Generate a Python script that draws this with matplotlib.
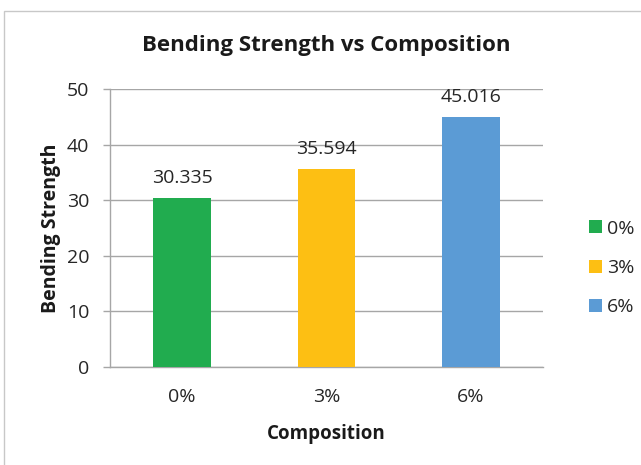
import matplotlib.pyplot as plt
from matplotlib.patches import Rectangle

plt.rcParams['font.family'] = ['Open Sans', 'DejaVu Sans']

# bending strength per composition
compositions = ['0%', '3%', '6%']
strength = [30.335, 35.594, 45.016]
bar_colors = ['#21ac4f', '#fdbf13', '#5b9bd5']
yticks = [0, 10, 20, 30, 40, 50]

W, H = 641, 465
fig = plt.figure(figsize=(W / 100, H / 100), dpi=100)

# outer chart frame (runs off the right and bottom edges)
fig.patches.append(Rectangle((4 / W, -0.1), 1.2, (H - 11) / H + 0.1,
                             transform=fig.transFigure, fill=False,
                             edgecolor='#c8c8c8', lw=1.0))

# plot area in pixels: left 110, right 543, top 89, bottom 367
ax = fig.add_axes([110 / W, (H - 367) / H, 433 / W, 278 / H])

x = list(range(len(compositions)))
bars = ax.bar(x, strength, width=0.4, color=bar_colors, zorder=3)

for xi, v in zip(x, strength):
    ax.annotate('{:.3f}'.format(v), (xi, v), xytext=(0, 8),
                textcoords='offset points', ha='center', va='bottom',
                fontsize=14, color='#262626')

ax.set_xlim(-0.5, 2.5)
ax.set_ylim(0, 50)
ax.set_yticks(yticks)
ax.set_xticks(x)
ax.set_xticklabels(compositions)
ax.yaxis.grid(True, color='#a6a6a6', lw=1.0, zorder=0)

for s in ['top', 'right']:
    ax.spines[s].set_visible(False)
for s in ['left', 'bottom']:
    ax.spines[s].set_color('#a6a6a6')
    ax.spines[s].set_linewidth(1.0)

ax.tick_params(axis='y', length=5, width=1.0, color='#a6a6a6',
               labelsize=14, labelcolor='#262626', pad=10)
ax.tick_params(axis='x', length=0, labelsize=14, labelcolor='#262626', pad=15)

ax.set_xlabel('Composition', fontsize=13.5, fontweight='bold',
              color='#1a1a1a', labelpad=13)
ax.set_ylabel('Bending Strength', fontsize=14, fontweight='bold',
              color='#1a1a1a', labelpad=4)

fig.text(326 / W, 1 - 46 / H, 'Bending Strength vs Composition',
         ha='center', va='center', fontsize=16, fontweight='bold',
         color='#1a1a1a')

leg = fig.legend(bars, compositions, loc='center left',
                 bbox_to_anchor=(571 / W, 1 - 268 / H), frameon=False,
                 fontsize=14, handlelength=0.67, handleheight=0.67,
                 handletextpad=0.3, labelspacing=1.1)
for t in leg.get_texts():
    t.set_color('#262626')

fig.savefig('out.png', dpi=100)
